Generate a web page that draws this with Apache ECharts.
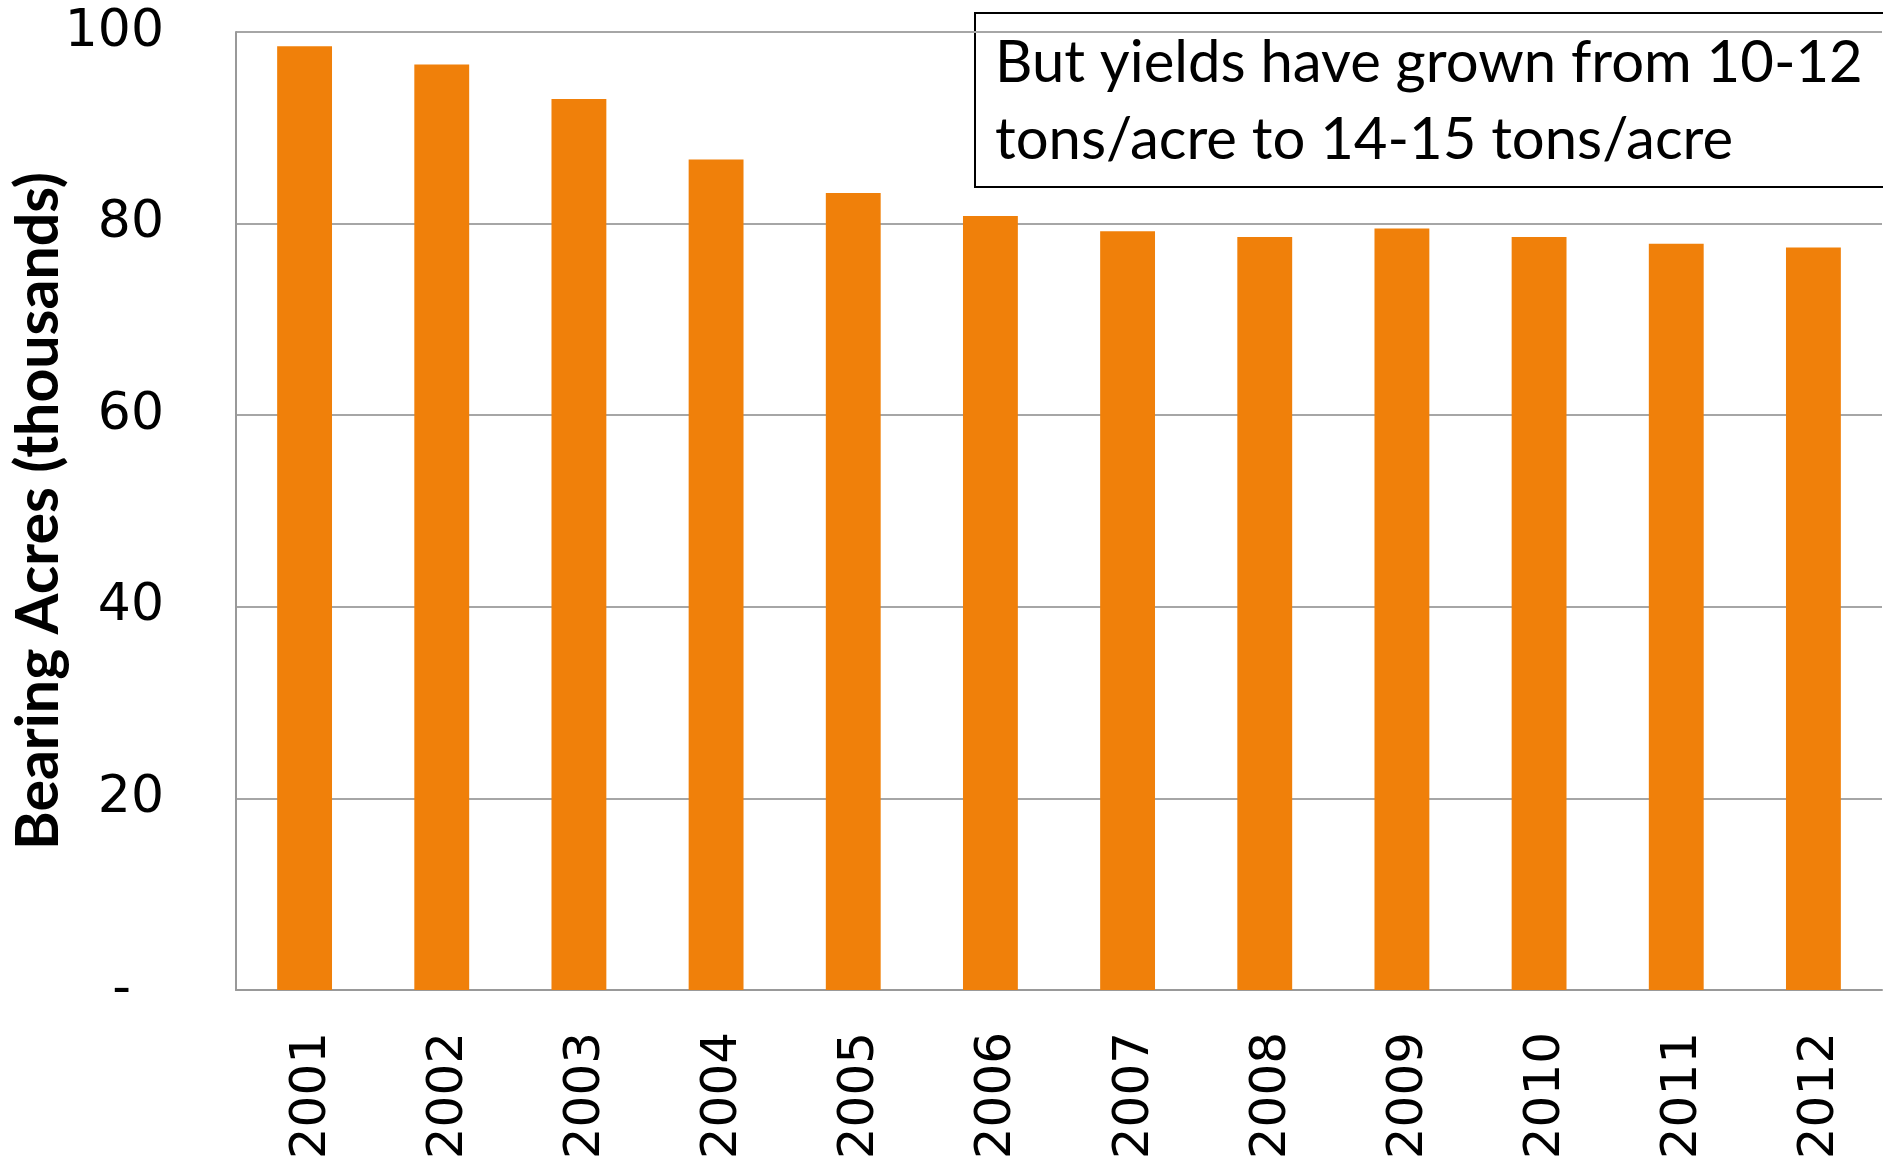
<!DOCTYPE html>
<html><head><meta charset="utf-8">
<script src="https://cdn.jsdelivr.net/npm/echarts@6/dist/echarts.min.js"></script>
<style>html,body{margin:0;padding:0;background:#fff}#c{width:1883px;height:1164px}</style>
</head><body><div id="c"></div>
<script>
const years = ['2001','2002','2003','2004','2005','2006','2007','2008','2009','2010','2011','2012'];
const bearingAcres = [98.5, 96.6, 93.0, 86.7, 83.2, 80.8, 79.2, 78.6, 79.5, 78.6, 77.9, 77.5];
const yTicks = [0, 20, 40, 60, 80, 100];
const axisTitle = 'Bearing Acres (thousands)';
const noteLines = ['But yields have grown from 10-12', 'tons/acre to 14-15 tons/acre'];

const chart = echarts.init(document.getElementById('c'), null, {renderer: 'canvas'});
chart.setOption({
  animation: false,
  backgroundColor: '#fff',
  grid: {left: 236, right: 1, top: 32, bottom: 174, containLabel: false, outerBoundsMode: 'none'},
  xAxis: {
    type: 'category', data: years,
    axisLine: {show: true, lineStyle: {color: '#999', width: 2}},
    axisTick: {show: false},
    axisLabel: {
      rotate: 90, margin: 42, color: '#000', fontFamily: 'DejaVu Sans', fontSize: 50,
      formatter: v => '{a|' + v + '}',
      rich: {a: {fontFamily: 'DejaVu Sans', fontSize: 50, color: '#000', padding: [14, 0, 0, 0]}}
    }
  },
  yAxis: {
    type: 'value', min: 0, max: 100, interval: 20,
    name: axisTitle, nameLocation: 'middle', nameGap: 168, nameRotate: 90, nameMoveOverlap: false,
    nameTextStyle: {fontFamily: 'Lato', fontWeight: 'bold', fontSize: 59, color: '#000'},
    axisLine: {show: true, lineStyle: {color: '#999', width: 2}},
    axisTick: {show: false},
    splitLine: {show: true, lineStyle: {color: '#a6a6a6', width: 2}},
    axisLabel: {
      margin: 72, color: '#000', fontFamily: 'DejaVu Sans', fontSize: 52,
      formatter: v => (yTicks.includes(v) ? (v === 0 ? '-  ' : String(v)) : '')
    }
  },
  series: [{
    type: 'bar', data: bearingAcres, barCategoryGap: '60%',
    itemStyle: {color: '#F0800A'}
  }],
  graphic: [{
    type: 'group', left: 974, top: 12,
    children: [
      {type: 'rect', shape: {x: 0, y: 0, width: 960, height: 174},
       style: {fill: '#fff', stroke: '#000', lineWidth: 2}},
      {type: 'text', x: 20, y: 50, style: {text: noteLines[0], fontFamily: 'Lato', fontSize: 58, fill: '#000', verticalAlign: 'middle'}},
      {type: 'text', x: 20, y: 127, style: {text: noteLines[1], fontFamily: 'Lato', fontSize: 58, fill: '#000', verticalAlign: 'middle'}}
    ]
  }]
});
</script></body></html>
